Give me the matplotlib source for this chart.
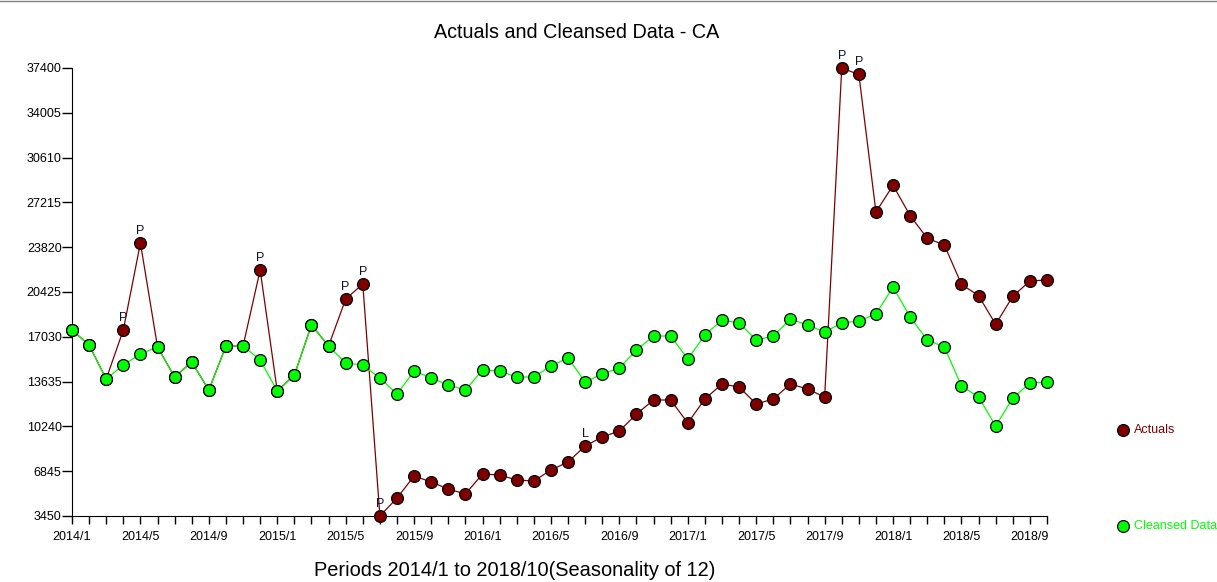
import matplotlib
matplotlib.use("Agg")
import matplotlib.pyplot as plt
from matplotlib.lines import Line2D

plt.rcParams["font.family"] = ["Liberation Sans", "DejaVu Sans"]

# monthly periods 2014/1 .. 2018/10
PERIODS = [f"{y}/{m}" for y in range(2014, 2019) for m in range(1, 13)][:58]

ACTUALS = [
    17545, 16408, 13832, 17545, 24138, 16257, 13984, 15120, 13000, 16332,
    16332, 22092, 12922, 14135, 17924, 16332, 19894, 21031, 3450, 4814,
    6481, 6027, 5496, 5117, 6633, 6557, 6178, 6102, 6936, 7542,
    8755, 9437, 9891, 11180, 12240, 12240, 10498, 12316, 13453, 13226,
    11937, 12316, 13453, 13074, 12468, 37377, 36922, 26487, 28511, 26207,
    24494, 23986, 21008, 20144, 17977, 20099, 21258, 21334,
]

CLEANSED = [
    17545, 16408, 13832, 14893, 15726, 16257, 13984, 15120, 13000, 16332,
    16332, 15272, 12922, 14135, 17924, 16332, 15044, 14893, 13908, 12695,
    14438, 13908, 13377, 13000, 14514, 14438, 13984, 13984, 14817, 15423,
    13605, 14211, 14666, 16030, 17090, 17090, 15347, 17166, 18303, 18076,
    16787, 17090, 18378, 17924, 17393, 18076, 18227, 18757, 20804, 18530,
    16787, 16257, 13301, 12468, 10270, 12392, 13529, 13605,
]

# outlier flags shown above the actuals
FLAGS = {3: "P", 4: "P", 11: "P", 16: "P", 17: "P", 18: "P", 30: "L", 45: "P", 46: "P"}

Y_TICKS = [3450, 6845, 10240, 13635, 17030, 20425, 23820, 27215, 30610, 34005, 37400]

ACTUAL_COLOR = "#800000"
CLEANSED_COLOR = "#00ff00"


def main():
    fig = plt.figure(figsize=(12.17, 5.82), dpi=100)
    ax = fig.add_axes([72 / 1217, 1 - 516 / 582, (1047 - 72) / 1217, (516 - 68) / 582])

    x = list(range(len(PERIODS)))

    ax.plot(x, ACTUALS, color=ACTUAL_COLOR, linewidth=0.9, zorder=2, clip_on=False)
    ax.plot(x, CLEANSED, color=CLEANSED_COLOR, linewidth=0.9, zorder=2.5, clip_on=False)
    ax.plot(x, ACTUALS, linestyle="none", marker="o", markersize=8.5,
            markerfacecolor=ACTUAL_COLOR, markeredgecolor="black",
            markeredgewidth=0.9, zorder=3, clip_on=False)
    ax.plot(x, CLEANSED, linestyle="none", marker="o", markersize=8.5,
            markerfacecolor=CLEANSED_COLOR, markeredgecolor="black",
            markeredgewidth=0.9, zorder=4, clip_on=False)

    for i, flag in FLAGS.items():
        ax.annotate(flag, (i, ACTUALS[i]), xytext=(0, 4.5), textcoords="offset points",
                    ha="center", va="bottom", fontsize=9, color="#101030", zorder=5)

    ax.set_xlim(0, len(PERIODS) - 1)
    ax.set_ylim(Y_TICKS[0], Y_TICKS[-1])
    ax.set_xticks(x, minor=True)
    ax.set_xticks(x[::4])
    ax.set_xticklabels(PERIODS[::4], fontsize=9)
    ax.set_yticks(Y_TICKS)
    ax.set_yticklabels([str(v) for v in Y_TICKS], fontsize=9)
    ax.tick_params(axis="x", which="both", direction="out", length=6, width=1, pad=4.5)
    ax.tick_params(axis="y", direction="out", length=7, width=1, pad=0.5)

    ax.spines["top"].set_visible(False)
    ax.spines["right"].set_visible(False)

    fig.text(577 / 1217, 1 - 33 / 582, "Actuals and Cleansed Data - CA",
             ha="center", va="center", fontsize=14.2)
    fig.text(515 / 1217, 1 - 570 / 582, "Periods 2014/1 to 2018/10(Seasonality of 12)",
             ha="center", va="center", fontsize=14.4)

    # side legend
    for ypix, label, color in [(430, "Actuals", ACTUAL_COLOR), (526, "Cleansed Data", CLEANSED_COLOR)]:
        fy = 1 - ypix / 582
        fig.add_artist(Line2D([1123 / 1217], [fy], marker="o", markersize=8.5,
                              markerfacecolor=color, markeredgecolor="black",
                              markeredgewidth=0.9, linestyle="none"))
        fig.text(1134 / 1217, fy, label, ha="left", va="center", fontsize=9, color=color)

    fig.add_artist(Line2D([0, 1], [0.999, 0.999], color="#808080", linewidth=1))

    fig.savefig("out.png", dpi=100)


if __name__ == "__main__":
    main()
